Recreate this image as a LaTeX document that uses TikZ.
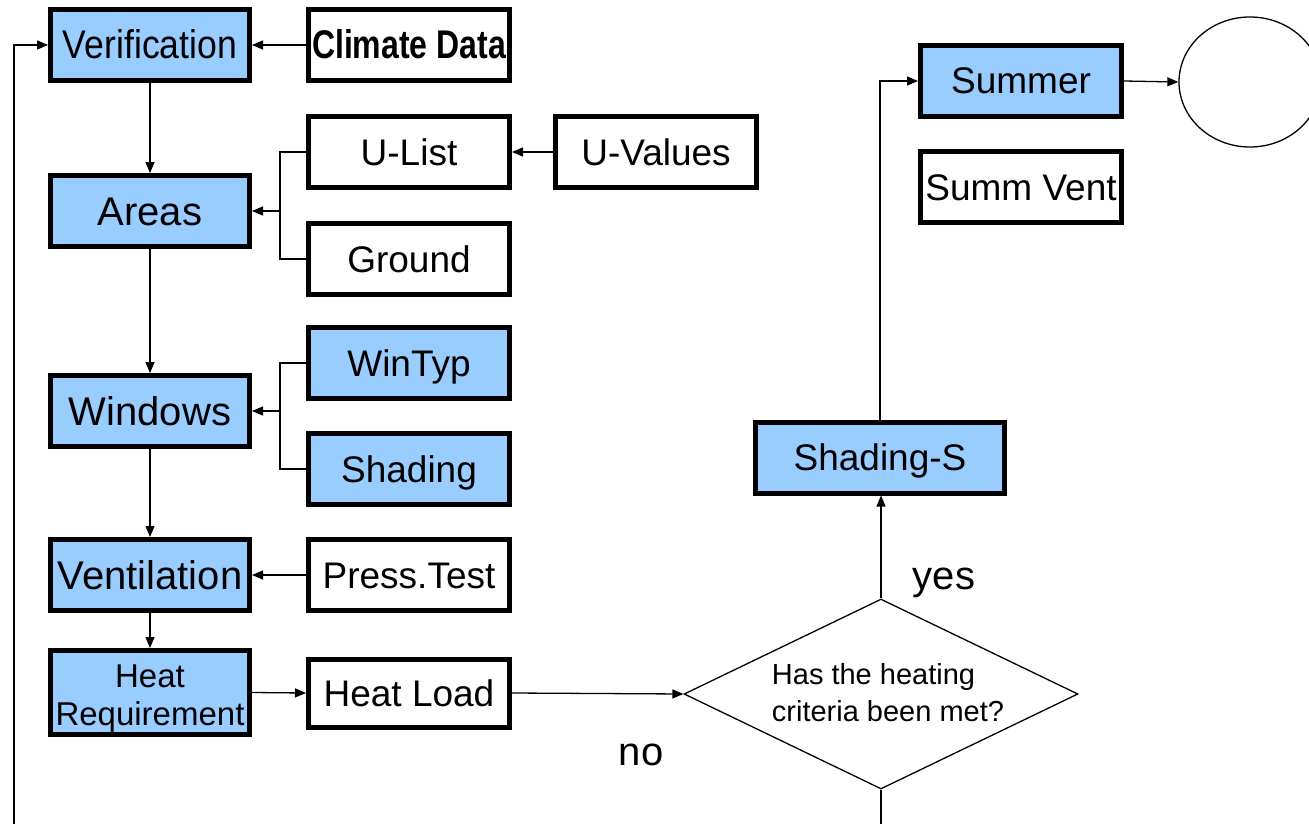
\documentclass[tikz,border=0pt]{standalone}
\usepackage{fontspec}
\setmainfont{Liberation Sans}
\usetikzlibrary{arrows.meta,shapes.geometric,calc}
\definecolor{boxblue}{HTML}{99CCFF}
\tikzset{
  box/.style={draw=black, line width=5pt, inner sep=0pt, minimum height=71pt, align=center},
  lbox/.style={box, minimum width=199pt},
  rbox/.style={box, minimum width=201pt},
  bluefill/.style={fill=boxblue},
  bigtxt/.style={font=\fontsize{40}{44}\selectfont, text height=29pt, text depth=1pt},
  midtxt/.style={font=\fontsize{37}{41}\selectfont, text height=27pt, text depth=1pt},
  labtxt/.style={font=\fontsize{40}{44}\selectfont, inner sep=0pt},
  conn/.style={line width=1.3pt},
  arr/.style={conn, -{Triangle[length=11pt,width=9pt]}},
}
\begin{document}
\begin{tikzpicture}[x=1pt,y=-1pt]
\useasboundingbox (0,0) rectangle (1309,824);
\clip (0,0) rectangle (1309,824);
% left column
\node[lbox,bluefill,bigtxt] (verif) at (150,45) {\scalebox{0.89}[1]{Verification}};
\node[lbox,bluefill,bigtxt] (areas) at (150,211) {Areas};
\node[lbox,bluefill,bigtxt] (windows) at (150,411) {Windows};
\node[lbox,bluefill,bigtxt] (vent) at (150,575) {Ventilation};
\node[lbox,bluefill,minimum height=84pt,font=\fontsize{33}{38}\selectfont] (heatreq) at (150,692.5) {\rule{0pt}{34pt}Heat\\Requirement};
% right column
\node[rbox,bigtxt,font=\bfseries\fontsize{40}{44}\selectfont] (climate) at (409,45) {\scalebox{0.8}[1]{Climate Data}};
\node[rbox,midtxt] (ulist) at (409,152) {U-List};
\node[box,minimum width=201pt,midtxt] (uvalues) at (656,152) {U-Values};
\node[rbox,midtxt] (ground) at (409,259) {Ground};
\node[rbox,bluefill,midtxt] (wintyp) at (409,363) {WinTyp};
\node[rbox,bluefill,midtxt] (shading) at (409,469) {Shading};
\node[rbox,midtxt] (press) at (409,575) {Press.Test};
\node[rbox,midtxt,minimum height=68pt] (heatload) at (409,693) {Heat Load};
% decision
\node[draw, line width=1.3pt, diamond, minimum width=394pt, minimum height=190pt, inner sep=0pt, shape aspect=2.07] (dec) at (881,694) {};
\node[align=left, inner sep=0pt, font=\fontsize{29}{37}\selectfont] (dectext) at (888,693) {Has the heating\\criteria been met?};
\node[box,bluefill,minimum width=249pt,midtxt] (shadings) at (880,457.5) {Shading-S};
\node[box,bluefill,minimum width=201pt,midtxt] (summer) at (1021,81) {Summer};
\node[box,minimum width=201pt,midtxt] (summvent) at (1021,187) {Summ Vent};
\node[draw, line width=1.3pt, ellipse, minimum width=142pt, minimum height=130pt, inner sep=0pt] (circ) at (1250,82) {};
% labels
\node[labtxt] (yes) at (944,583) {yes};
\node[labtxt] (no) at (641,755) {no};
% connectors
\draw[arr] (climate) -- (verif);
\draw[arr] (verif) -- (areas);
\coordinate (jA) at ($(areas.east)+(28,0)$);
\draw[conn] (ulist.west) -| (jA) |- (ground.west);
\draw[arr] (jA) -- (areas.east);
\draw[arr] (uvalues) -- (ulist);
\draw[arr] (areas) -- (windows);
\coordinate (jW) at ($(windows.east)+(28,0)$);
\draw[conn] (wintyp.west) -| (jW) |- (shading.west);
\draw[arr] (jW) -- (windows.east);
\draw[arr] (windows) -- (vent);
\draw[arr] (press) -- (vent);
\draw[arr] (vent) -- (heatreq);
\draw[arr] (heatreq.east) -- (heatload.west);
\draw[arr] (heatload.east) -- (dec.west);
\draw[arr] (dec.north) -- (dec.north |- shadings.south);
\draw[arr] (shadings.north) |- (summer.west);
\draw[arr] (summer.east) -- (circ.west);
\coordinate (lb) at (881,860);
\coordinate (ll) at (14,860);
\draw[arr] (dec.south) -- (lb) -- (ll) |- (verif.west);
\end{tikzpicture}
\end{document}
